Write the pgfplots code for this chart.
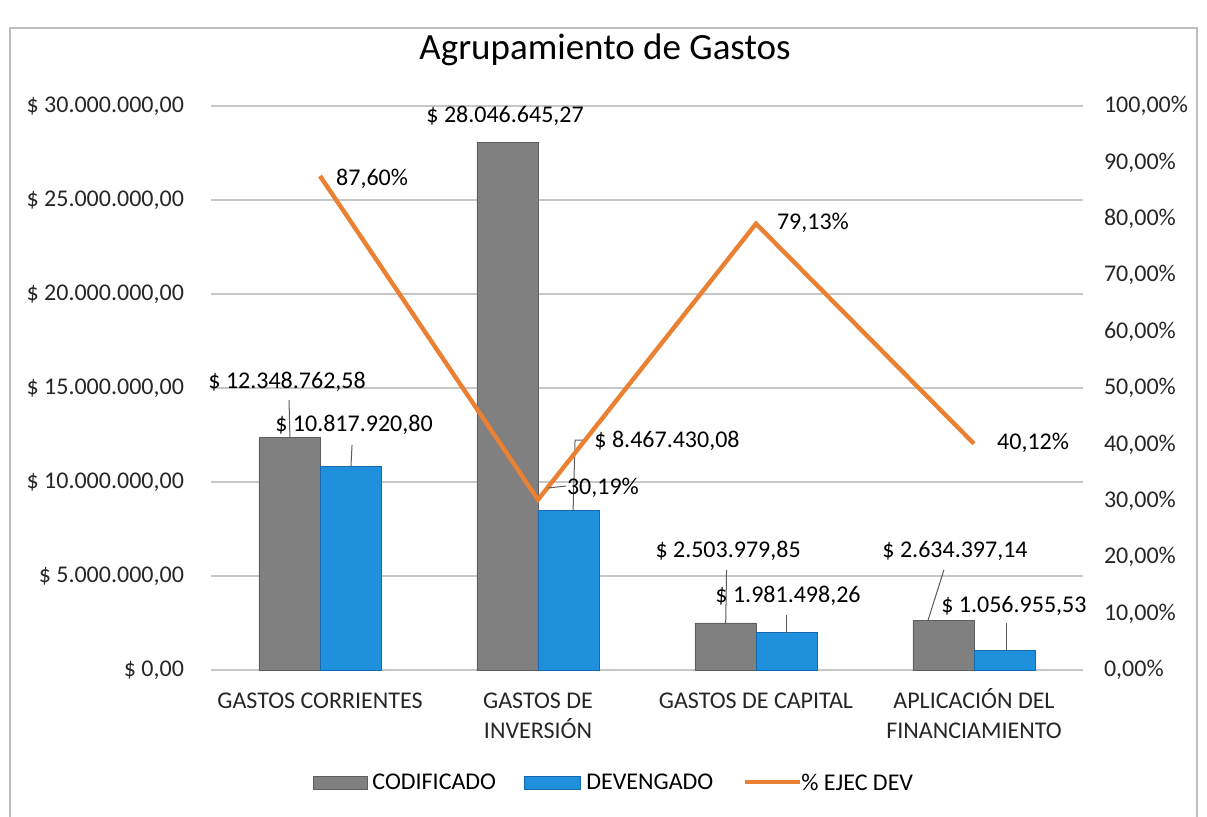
\documentclass[border=0pt]{standalone}
\usepackage{fontspec}
\setmainfont{Carlito}
\usepackage{pgfplots}
\pgfplotsset{compat=1.18}
\definecolor{barGray}{RGB}{128,128,128}
\definecolor{barGrayDark}{RGB}{95,95,95}
\definecolor{barBlue}{RGB}{30,144,220}
\definecolor{barBlueDark}{RGB}{20,105,175}
\definecolor{lineOrange}{RGB}{234,128,50}
\definecolor{leader}{RGB}{90,90,90}

\newcommand{\tickfont}{\fontsize{12}{15}\selectfont}
\newcommand{\lblfont}{\fontsize{12}{14}\selectfont}
\newcommand{\st}{\rule{0pt}{10pt}}

\pgfplotsset{
  common/.style={
    at={(160pt,73pt)}, anchor=origin,
    scale only axis, width=436pt, height=282pt,
    xmin=-0.5, xmax=3.5, ymin=0,
    major tick length=0pt,
    axis line style={draw=none},
    clip=false,
  },
}

\begin{document}
\begin{tikzpicture}
\useasboundingbox (0pt,0pt) rectangle (603.5pt,408pt);
% outer frame of the chart
\draw[black!25, line width=0.6pt] (5pt,-2pt) -- (5pt,394pt) -- (598.5pt,394pt) -- (598.5pt,-2pt);

% title
\node[font=\fontsize{18.5}{22}\selectfont] at (302.5pt,383pt) {Agrupamiento de Gastos};

% amounts (left axis)
\begin{axis}[
  common,
  ymax=30000000,
  scaled y ticks=false,
  xtick={0,1,2,3},
  xticklabels={{\st GASTOS CORRIENTES},{\st GASTOS DE\\INVERSIÓN},{\st GASTOS DE CAPITAL},{\st APLICACIÓN DEL\\FINANCIAMIENTO}},
  xticklabel style={font=\tickfont, align=center, anchor=north, inner sep=0pt, yshift=-9pt, text=black!85},
  ytick={0,5000000,10000000,15000000,20000000,25000000,30000000},
  yticklabels={{\$ 0,00},{\$ 5.000.000,00},{\$ 10.000.000,00},{\$ 15.000.000,00},{\$ 20.000.000,00},{\$ 25.000.000,00},{\$ 30.000.000,00}},
  yticklabel style={font=\tickfont, xshift=-10pt, text=black!85},
  ymajorgrids, grid style={color=black!22, line width=0.7pt},
  ybar=0pt, bar width=30.5pt,
]
\addplot[fill=barGray, draw=barGrayDark, line width=0.4pt]
  coordinates {(0,12348762.58)(1,28046645.27)(2,2503979.85)(3,2634397.14)};
\addplot[fill=barBlue, draw=barBlueDark, line width=0.4pt]
  coordinates {(0,10817920.80)(1,8467430.08)(2,1981498.26)(3,1056955.53)};

% data labels and leader lines
\draw[leader, line width=0.5pt] (axis cs:-0.142,14360000) -- (axis cs:-0.138,12350000);
\node[font=\lblfont] at (axis cs:-0.151,15320000) {\$ 12.348.762,58};
\draw[leader, line width=0.5pt] (axis cs:0.147,11970000) -- (axis cs:0.142,10820000);
\node[font=\lblfont] at (axis cs:0.156,13030000) {\$ 10.817.920,80};
\node[font=\lblfont] at (axis cs:0.849,29470000) {\$ 28.046.645,27};
\draw[leader, line width=0.5pt] (axis cs:1.211,12230000) -- (axis cs:1.170,12230000) -- (axis cs:1.161,8470000);
\node[font=\lblfont] at (axis cs:1.592,12180000) {\$ 8.467.430,08};
\draw[leader, line width=0.5pt] (axis cs:1.865,5320000) -- (axis cs:1.861,2500000);
\node[font=\lblfont] at (axis cs:1.872,6330000) {\$ 2.503.979,85};
\draw[leader, line width=0.5pt] (axis cs:2.142,2930000) -- (axis cs:2.142,1980000);
\node[font=\lblfont] at (axis cs:2.147,3940000) {\$ 1.981.498,26};
\draw[leader, line width=0.5pt] (axis cs:2.862,5320000) -- (axis cs:2.789,2640000);
\node[font=\lblfont] at (axis cs:2.913,6330000) {\$ 2.634.397,14};
\draw[leader, line width=0.5pt] (axis cs:3.15,2500000) -- (axis cs:3.15,1060000);
\node[font=\lblfont] at (axis cs:3.183,3400000) {\$ 1.056.955,53};
\end{axis}

% percentage (right axis)
\begin{axis}[
  common,
  ymax=100,
  hide x axis,
  axis y line*=right,
  ytick={0,10,20,30,40,50,60,70,80,90,100},
  yticklabels={{0,00\%},{10,00\%},{20,00\%},{30,00\%},{40,00\%},{50,00\%},{60,00\%},{70,00\%},{80,00\%},{90,00\%},{100,00\%}},
  yticklabel style={font=\tickfont, xshift=7pt, text=black!85},
]
\addplot[color=lineOrange, line width=2.2pt, mark=none]
  coordinates {(0,87.60)(1,30.19)(2,79.13)(3,40.12)};
\node[font=\lblfont] at (axis cs:0.239,87.06) {87,60\%};
\draw[leader, line width=0.5pt] (axis cs:1.046,32.27) -- (axis cs:1.128,32.62);
\node[font=\lblfont] at (axis cs:1.298,32.27) {30,19\%};
\node[font=\lblfont] at (axis cs:2.261,79.26) {79,13\%};
\node[font=\lblfont] at (axis cs:3.271,40.25) {40,12\%};
\end{axis}

% legend
\fill[barGray, draw=barGrayDark, line width=0.4pt] (156.5pt,13.5pt) rectangle (183.5pt,20pt);
\node[anchor=west, font=\tickfont, inner sep=0pt] at (186pt,17pt) {CODIFICADO};
\fill[barBlue, draw=barBlueDark, line width=0.4pt] (262pt,13.5pt) rectangle (290pt,20pt);
\node[anchor=west, font=\tickfont, inner sep=0pt] at (293pt,17pt) {DEVENGADO};
\draw[lineOrange, line width=2.2pt] (372.5pt,17pt) -- (400pt,17pt);
\node[anchor=west, font=\tickfont, inner sep=0pt] at (400.5pt,17pt) {\% EJEC DEV};
\end{tikzpicture}
\end{document}
